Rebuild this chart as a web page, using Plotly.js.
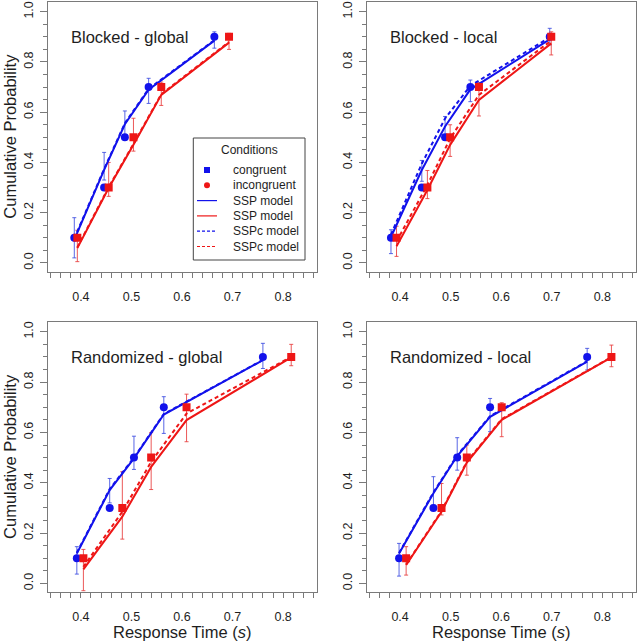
<!DOCTYPE html>
<html>
<head>
<meta charset="utf-8">
<script src="https://cdn.plot.ly/plotly-3.0.1.min.js"></script>
<style>html,body{margin:0;padding:0;background:#fff;}#chart{width:640px;height:641px;}</style>
</head>
<body>
<div id="chart"></div>
<script>
// ---- data ----
const panelNames = ['Blocked - global', 'Blocked - local', 'Randomized - global', 'Randomized - local'];
const probs = [0.1, 0.3, 0.5, 0.7, 0.9];

// observed RT quantiles (s)
const congRT = [
  [0.387, 0.446, 0.487, 0.534, 0.664],
  [0.382, 0.443, 0.489, 0.539, 0.696],
  [0.392, 0.457, 0.505, 0.564, 0.760],
  [0.398, 0.466, 0.513, 0.578, 0.770]
];
const incongRT = [
  [0.393, 0.455, 0.504, 0.559, 0.693],
  [0.393, 0.454, 0.499, 0.556, 0.699],
  [0.405, 0.482, 0.539, 0.609, 0.816],
  [0.412, 0.482, 0.532, 0.601, 0.818]
];

// error bar limits (lower / upper)
const congLo = [
  [0.020, 0.330, 0.500, 0.635, 0.855],
  [0.037, 0.325, 0.497, 0.642, 0.868],
  [0.037, 0.320, 0.453, 0.596, 0.854],
  [0.029, 0.311, 0.450, 0.603, 0.848]
];
const congHi = [
  [0.180, 0.440, 0.605, 0.735, 0.920],
  [0.132, 0.408, 0.583, 0.728, 0.934],
  [0.146, 0.417, 0.585, 0.742, 0.954],
  [0.159, 0.424, 0.579, 0.735, 0.934]
];
const incongLo = [
  [0.005, 0.265, 0.445, 0.627, 0.850],
  [0.026, 0.256, 0.424, 0.585, 0.828],
  [-0.029, 0.176, 0.373, 0.563, 0.865],
  [0.033, 0.272, 0.430, 0.583, 0.861]
];
const incongHi = [
  [0.130, 0.400, 0.576, 0.720, 0.914],
  [0.146, 0.368, 0.550, 0.718, 0.920],
  [0.135, 0.444, 0.599, 0.752, 0.950],
  [0.146, 0.397, 0.550, 0.718, 0.947]
];

// model predictions (cumulative probability at the observed quantiles)
const sspCong = [
  [0.093, 0.370, 0.552, 0.690, 0.885],
  [0.103, 0.370, 0.543, 0.691, 0.890],
  [0.119, 0.371, 0.497, 0.671, 0.887],
  [0.119, 0.358, 0.506, 0.662, 0.881]
];
const sspIncong = [
  [0.059, 0.298, 0.470, 0.669, 0.877],
  [0.066, 0.290, 0.470, 0.649, 0.874],
  [0.056, 0.265, 0.463, 0.649, 0.898],
  [0.073, 0.285, 0.480, 0.650, 0.898]
];
const sspcCong = [
  [0.097, 0.374, 0.556, 0.693, 0.887],
  [0.113, 0.395, 0.575, 0.705, 0.898],
  [0.122, 0.375, 0.500, 0.673, 0.888],
  [0.121, 0.362, 0.509, 0.665, 0.883]
];
const sspcIncong = [
  [0.062, 0.302, 0.474, 0.672, 0.880],
  [0.086, 0.310, 0.495, 0.669, 0.885],
  [0.066, 0.285, 0.483, 0.675, 0.900],
  [0.075, 0.288, 0.484, 0.653, 0.899]
];

// legend entries
const legendTitle = 'Conditions';
const legendLabels = ['congruent', 'incongruent', 'SSP model', 'SSP model', 'SSPc model', 'SSPc model'];

// ---- styling ----
const FONT = 'Liberation Sans, Arial, Helvetica, sans-serif';
const BLUE = 'rgb(18,18,235)';
const RED = 'rgb(238,22,22)';
const BLUE_EB = 'rgba(60,75,225,0.85)';
const RED_EB = 'rgba(232,60,60,0.85)';
const FRAME = '#7a7a7a';
const TEXT = '#1e1e1e';

const traces = [];

for (let p = 0; p < 4; p++) {
  const xa = p === 0 ? 'x' : 'x' + (p + 1);
  const ya = p === 0 ? 'y' : 'y' + (p + 1);

  const ebTrace = (rt, lo, hi, col) => ({
    x: rt[p],
    y: lo[p].map((l, i) => (l + hi[p][i]) / 2),
    xaxis: xa, yaxis: ya, type: 'scatter', mode: 'markers',
    marker: {size: 1, opacity: 0},
    error_y: {type: 'data', symmetric: true, array: lo[p].map((l, i) => (hi[p][i] - l) / 2),
      color: col, thickness: 1, width: 2},
    showlegend: false, hoverinfo: 'skip'
  });
  traces.push(ebTrace(congRT, congLo, congHi, BLUE_EB));
  traces.push(ebTrace(incongRT, incongLo, incongHi, RED_EB));

  const lineTrace = (rt, model, col, dash, name) => ({
    x: rt[p], y: model[p], xaxis: xa, yaxis: ya, type: 'scatter', mode: 'lines',
    line: {color: col, width: 2, dash: dash},
    name: name, showlegend: false, hoverinfo: 'skip'
  });
  traces.push(lineTrace(congRT, sspCong, BLUE, 'solid', 'SSP model'));
  traces.push(lineTrace(incongRT, sspIncong, RED, 'solid', 'SSP model'));
  traces.push(lineTrace(congRT, sspcCong, BLUE, '4px,3px', 'SSPc model'));
  traces.push(lineTrace(incongRT, sspcIncong, RED, '4px,3px', 'SSPc model'));

  traces.push({x: congRT[p], y: probs, xaxis: xa, yaxis: ya, type: 'scatter', mode: 'markers',
    marker: {symbol: 'circle', size: 8, color: BLUE}, showlegend: false, name: 'congruent'});
  traces.push({x: incongRT[p], y: probs, xaxis: xa, yaxis: ya, type: 'scatter', mode: 'markers',
    marker: {symbol: 'square', size: 8, color: RED}, showlegend: false, name: 'incongruent'});
}

// ---- layout ----
const W = 640, H = 641;
const colX = [[47.5, 316.5], [366.7, 635.7]];
const rowY = [[1.7, 271.7], [321.7, 592.2]];

const layout = {
  width: W, height: H, autosize: false,
  margin: {l: 0, r: 0, t: 0, b: 0},
  paper_bgcolor: '#fff', plot_bgcolor: '#fff',
  font: {family: FONT, size: 12, color: TEXT},
  showlegend: false,
  annotations: [],
  shapes: []
};

for (let p = 0; p < 4; p++) {
  const col = p % 2, row = Math.floor(p / 2);
  const sfx = p === 0 ? '' : String(p + 1);
  const xd = [colX[col][0] / W, colX[col][1] / W];
  const yd = [1 - rowY[row][1] / H, 1 - rowY[row][0] / H];
  layout['xaxis' + sfx] = {
    domain: xd, anchor: 'y' + sfx, range: [0.334, 0.866],
    tick0: 0.4, dtick: 0.1, tickformat: '.1f',
    ticks: 'outside', ticklen: 5, tickwidth: 1, tickcolor: FRAME,
    ticklabelstandoff: 8,
    minor: {tick0: 0.4, dtick: 0.02, ticks: 'outside', ticklen: 5, tickwidth: 1, tickcolor: FRAME, showgrid: false},
    showline: true, mirror: true, linecolor: FRAME, linewidth: 1,
    showgrid: false, zeroline: false, fixedrange: true,
    tickfont: {family: FONT, size: 12.5, color: TEXT}
  };
  layout['yaxis' + sfx] = {
    domain: yd, anchor: 'x' + sfx, range: [-0.035, 1.04],
    tick0: 0, dtick: 0.2, tickformat: '.1f', tickangle: -90,
    ticks: 'outside', ticklen: 7, tickwidth: 1, tickcolor: FRAME,
    ticklabelstandoff: 2,
    minor: {tick0: 0, dtick: 0.05, ticks: 'outside', ticklen: 4, tickwidth: 1, tickcolor: FRAME, showgrid: false},
    showline: true, mirror: true, linecolor: FRAME, linewidth: 1,
    showgrid: false, zeroline: false, fixedrange: true,
    tickfont: {family: FONT, size: 12.5, color: TEXT}
  };
  layout.annotations.push({
    text: panelNames[p], xref: 'x' + sfx + ' domain', yref: 'y' + sfx + ' domain',
    x: 0.08, y: 0.87, xanchor: 'left', yanchor: 'middle', showarrow: false,
    font: {family: FONT, size: 16.5, color: TEXT}
  });
  if (col === 0) {
    layout.annotations.push({
      text: 'Cumulative Probability', xref: 'paper', yref: 'y' + sfx + ' domain',
      x: 10 / W, y: 0.5, xanchor: 'center', yanchor: 'middle', textangle: -90, showarrow: false,
      font: {family: FONT, size: 16.5, color: TEXT}
    });
  }
  if (row === 1) {
    layout.annotations.push({
      text: 'Response Time (<i>s</i>)', xref: 'x' + sfx + ' domain', yref: 'paper',
      x: 0.5, y: 1 - 631.7 / H, xanchor: 'center', yanchor: 'middle', showarrow: false,
      font: {family: FONT, size: 16.5, color: TEXT}
    });
  }
}

// ---- legend (drawn in the first panel, in pixel positions of the page) ----
const lg = {left: 193.3, right: 305, top: 138, bottom: 260, titleY: 150, firstY: 170, step: 15.3,
  symL: 197, symR: 217, textX: 230.5};
const px = v => v / W, py = v => 1 - v / H;
layout.shapes.push({type: 'rect', xref: 'paper', yref: 'paper',
  x0: px(lg.left), x1: px(lg.right), y0: py(lg.bottom), y1: py(lg.top),
  line: {color: '#444', width: 1}, fillcolor: '#fff', layer: 'above'});
layout.annotations.push({text: legendTitle, xref: 'paper', yref: 'paper',
  x: px((lg.left + lg.right) / 2), y: py(lg.titleY), xanchor: 'center', yanchor: 'middle',
  showarrow: false, font: {family: FONT, size: 12, color: TEXT}});
const legendStyle = [
  {kind: 'square', color: BLUE}, {kind: 'circle', color: RED},
  {kind: 'line', color: BLUE, dash: 'solid'}, {kind: 'line', color: RED, dash: 'solid'},
  {kind: 'line', color: BLUE, dash: '3px,2px'}, {kind: 'line', color: RED, dash: '3px,2px'}
];
legendLabels.forEach((lab, i) => {
  const yc = lg.firstY + i * lg.step;
  const st = legendStyle[i];
  const xc = (lg.symL + lg.symR) / 2;
  if (st.kind === 'line') {
    layout.shapes.push({type: 'line', xref: 'paper', yref: 'paper',
      x0: px(lg.symL), x1: px(lg.symR), y0: py(yc), y1: py(yc),
      line: {color: st.color, width: 1.2, dash: st.dash}, layer: 'above'});
  } else {
    layout.shapes.push({type: st.kind === 'square' ? 'rect' : 'circle', xref: 'paper', yref: 'paper',
      x0: px(xc - 3), x1: px(xc + 3), y0: py(yc + 3), y1: py(yc - 3),
      line: {width: 0}, fillcolor: st.color, layer: 'above'});
  }
  layout.annotations.push({text: lab, xref: 'paper', yref: 'paper',
    x: px(lg.textX), y: py(yc), xanchor: 'left', yanchor: 'middle',
    showarrow: false, font: {family: FONT, size: 12, color: TEXT}});
});

Plotly.newPlot('chart', traces, layout, {staticPlot: true, displayModeBar: false});
</script>
</body>
</html>
